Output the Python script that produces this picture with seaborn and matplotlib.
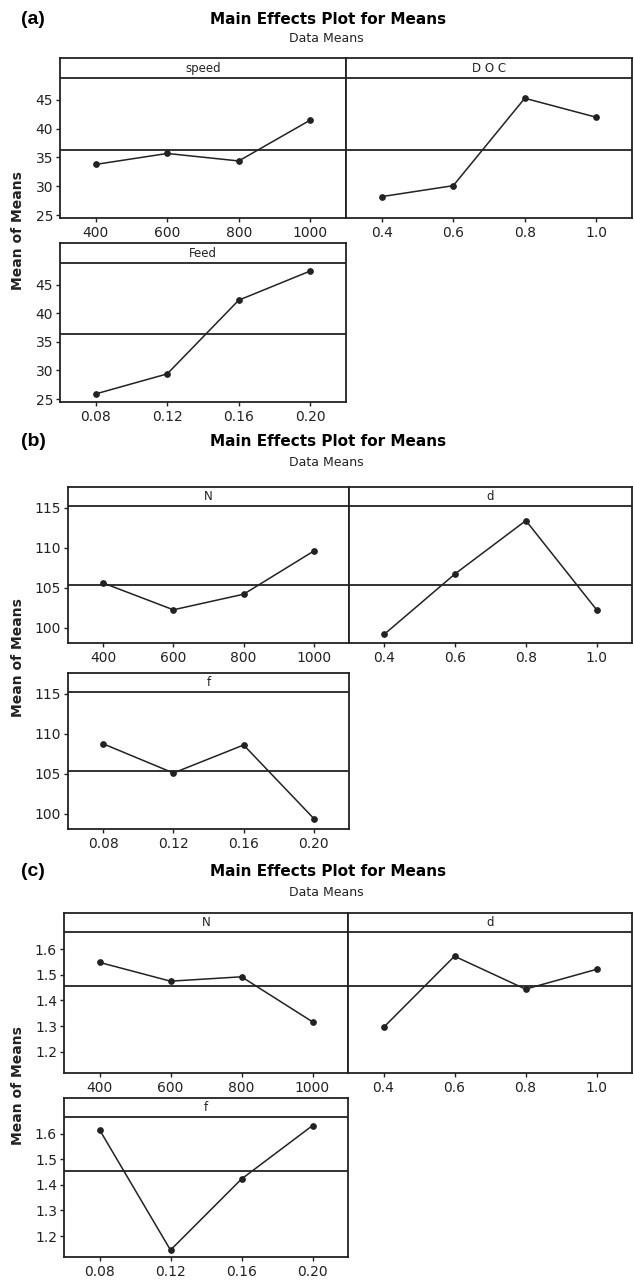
import numpy as np
import pandas as pd
import matplotlib
matplotlib.use("Agg")
import matplotlib.pyplot as plt
import seaborn as sns

# ---------------- data ----------------
speed_levels = ["400", "600", "800", "1000"]
doc_levels = ["0.4", "0.6", "0.8", "1.0"]
feed_levels = ["0.08", "0.12", "0.16", "0.20"]

a_speed = [33.8, 35.7, 34.4, 41.5]
a_doc = [28.2, 30.1, 45.3, 42.0]
a_feed = [25.9, 29.4, 42.3, 47.4]
a_grand_mean = 36.3
a_yticks = [25, 30, 35, 40, 45]

b_N = [105.6, 102.25, 104.2, 109.6]
b_d = [99.2, 106.75, 113.4, 102.25]
b_f = [108.75, 105.1, 108.6, 99.4]
b_grand_mean = 105.4
b_yticks = [100, 105, 110, 115]

c_N = [1.548, 1.475, 1.492, 1.317]
c_d = [1.295, 1.572, 1.444, 1.521]
c_f = [1.616, 1.145, 1.423, 1.632]
c_grand_mean = 1.455
c_yticks = [1.2, 1.3, 1.4, 1.5, 1.6]

# ---------------- style ----------------
sns.set_theme(style="ticks")
plt.rcParams["font.family"] = ["DejaVu Sans"]
INK = "#222222"

W, H = 634, 1281
fig = plt.figure(figsize=(W / 100, H / 100), dpi=100)
fig.patch.set_facecolor("white")


def add_ax(x0, y0, x1, y1):
    return fig.add_axes([x0 / W, 1 - y1 / H, (x1 - x0) / W, (y1 - y0) / H])


def draw_panel(ax, name, levels, values, grand_mean, ylim, strip_y, yticks,
               fmt, show_y):
    df = pd.DataFrame({"level": levels, "mean": values})
    sns.pointplot(data=df, x="level", y="mean", order=levels, color=INK,
                  markers="o", markersize=4, linewidth=1.1, errorbar=None,
                  ax=ax)
    ax.set_xlim(-0.5, 3.5)
    ax.set_ylim(*ylim)
    ax.axhline(grand_mean, color=INK, lw=1.3, zorder=1)
    ax.axhline(strip_y, color=INK, lw=1.3, zorder=1)
    frac = (strip_y - ylim[0]) / (ylim[1] - ylim[0])
    ax.text(0.5, (1 + frac) / 2, name, transform=ax.transAxes,
            ha="center", va="center", fontsize=8.5, color=INK)
    ax.set_xlabel("")
    ax.set_ylabel("")
    ax.set_yticks(yticks)
    if show_y:
        ax.set_yticklabels([fmt.format(v) for v in yticks])
        ax.tick_params(axis="y", left=True, labelleft=True, length=3,
                       width=1, colors=INK, labelsize=10, pad=2)
    else:
        ax.tick_params(axis="y", left=False, labelleft=False)
    ax.tick_params(axis="x", bottom=True, length=3, width=1, colors=INK,
                   labelsize=10, pad=3)
    for s in ax.spines.values():
        s.set_visible(True)
        s.set_linewidth(1.3)
        s.set_color(INK)


def block(label, title_y, sub_y, top_y0, top_y1, bot_y0, bot_y1, xl, xm,
          names, vals, grand_mean, ylim, strip_y, yticks, fmt, ylab_y):
    fig.text(21 / W, 1 - title_y / H, label, fontsize=14, fontweight="bold",
             family=["Liberation Sans"], ha="left", va="center",
             color="black")
    fig.text(328 / W, 1 - title_y / H, "Main Effects Plot for Means",
             fontsize=11, fontweight="bold", ha="center", va="center",
             color="black")
    fig.text(326 / W, 1 - sub_y / H, "Data Means", fontsize=9,
             ha="center", va="center", color=INK)
    ax1 = add_ax(xl, top_y0, xm, top_y1)
    ax2 = add_ax(xm, top_y0, 632, top_y1)
    ax3 = add_ax(xl, bot_y0, xm, bot_y1)
    levels = [speed_levels, doc_levels, feed_levels]
    for ax, nm, lv, v, sy in zip([ax1, ax2, ax3], names, levels, vals,
                                 [True, False, True]):
        draw_panel(ax, nm, lv, v, grand_mean, ylim, strip_y, yticks, fmt, sy)
    fig.text(18 / W, 1 - ylab_y / H, "Mean of Means", rotation=90,
             fontsize=10, fontweight="bold", ha="center", va="center",
             color=INK)


block("(a)", 19, 38, 58, 218, 243, 402, 60, 346,
      ["speed", "D O C", "Feed"], [a_speed, a_doc, a_feed], a_grand_mean,
      (24.48, 52.3), 48.8, a_yticks, "{:.0f}", 231)

block("(b)", 442, 462, 487, 643, 673, 829, 68, 349,
      ["N", "d", "f"], [b_N, b_d, b_f], b_grand_mean,
      (98.1, 117.6), 115.2, b_yticks, "{:.0f}", 658)

block("(c)", 872, 893, 913, 1073, 1098, 1257, 64, 348,
      ["N", "d", "f"], [c_N, c_d, c_f], c_grand_mean,
      (1.118, 1.74), 1.666, c_yticks, "{:.1f}", 1086)

fig.savefig("out.png", dpi=100, facecolor="white")
